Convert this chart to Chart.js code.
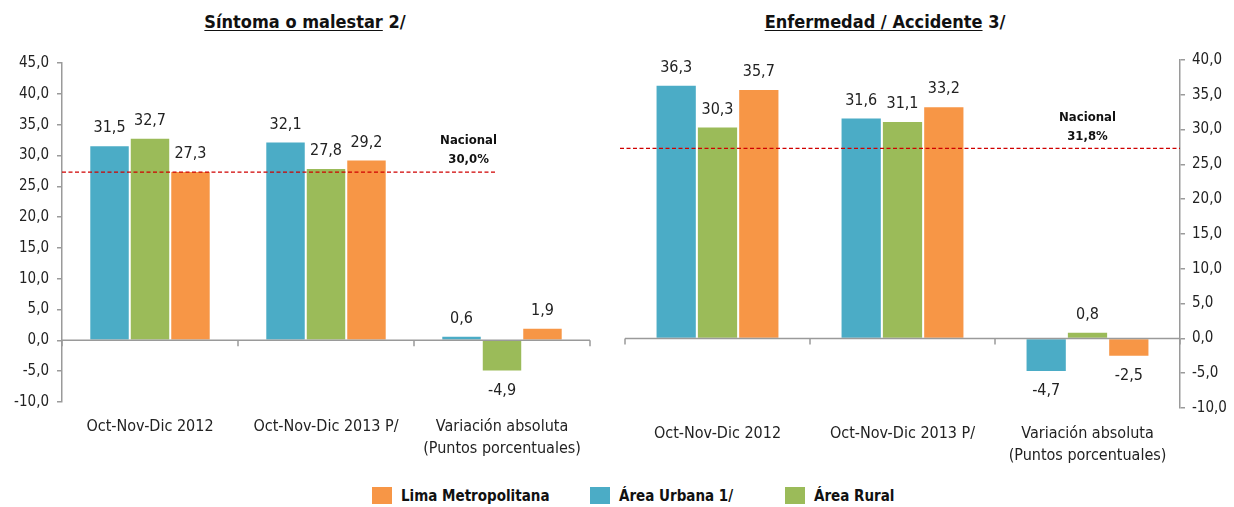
<!DOCTYPE html>
<html>
<head>
<meta charset="utf-8">
<script src="https://cdn.jsdelivr.net/npm/chart.js@4.4.1/dist/chart.umd.min.js"></script>
<style>
    body { margin: 0; background: #fff; width: 1234px; height: 507px; overflow: hidden; position: relative;
           font-family: "Liberation Sans Narrow", "DejaVu Sans Condensed", "Arial Narrow", sans-serif; color: #111; }
    .titulo { position: absolute; top: 11px; font-weight: bold; font-size: 18px; white-space: nowrap; transform: translateX(-50%); }
    .titulo u { text-underline-offset: 2px; }
    #izq { position: absolute; left: 0; top: 0; }
    #der { position: absolute; left: 615px; top: 0; }
    .leyenda { position: absolute; top: 487px; font-weight: bold; font-size: 15px; white-space: nowrap; }
    .leyenda span { display: inline-block; width: 20px; height: 17px; vertical-align: -3px; margin-right: 9px; }
</style>
</head>
<body>

<div class="titulo" style="left:305px"><u>Síntoma o malestar</u> 2/</div>
<div class="titulo" style="left:885px"><u>Enfermedad / Accidente</u> 3/</div>

<canvas id="izq" width="615" height="470"></canvas>
<canvas id="der" width="619" height="470"></canvas>

<div class="leyenda" style="left:372px"><span style="background:#F79646"></span>Lima Metropolitana</div>
<div class="leyenda" style="left:590px"><span style="background:#4BACC6"></span>Área Urbana 1/</div>
<div class="leyenda" style="left:785px"><span style="background:#9BBB59"></span>Área Rural</div>

<script>
// =====================
// DATOS
// =====================
const categorias = ["Oct-Nov-Dic 2012", "Oct-Nov-Dic 2013 P/", ["Variación absoluta", "(Puntos porcentuales)"]];

// Síntoma o malestar
const sintomaUrbana = [31.5, 32.1, 0.6];
const sintomaRural  = [32.7, 27.8, -4.9];
const sintomaLima   = [27.3, 29.2, 1.9];

// Enfermedad / Accidente
const enfermedadUrbana = [36.3, 31.6, -4.7];
const enfermedadRural  = [30.3, 31.1, 0.8];
const enfermedadLima   = [35.7, 33.2, -2.5];

// linea nacional (como aparece dibujada) y su texto
const nacionalSintoma = 27.3;
const nacionalSintomaTexto = "30,0%";
const nacionalEnfermedad = 27.3;
const nacionalEnfermedadTexto = "31,8%";

const COLOR_URBANA = "#4BACC6";
const COLOR_RURAL = "#9BBB59";
const COLOR_LIMA = "#F79646";
const FUENTE = "'Liberation Sans Narrow', 'DejaVu Sans Condensed', 'Arial Narrow', sans-serif";

const coma = v => v.toFixed(1).replace(".", ",");

// =====================
// PLUGIN: etiquetas, eje cero, linea nacional
// =====================
const extras = {
    id: "extras",
    afterDatasetsDraw(chart, args, opts) {
        const ctx = chart.ctx;
        const x = chart.scales.x;
        const y = chart.scales.y;
        const area = chart.chartArea;

        // eje en cero con marcas entre categorias
        const y0 = y.getPixelForValue(0);
        const mitad = (x.getPixelForValue(1) - x.getPixelForValue(0)) / 2;
        ctx.save();
        ctx.strokeStyle = "#9a9a9a";
        ctx.lineWidth = 1.5;
        ctx.beginPath();
        ctx.moveTo(area.left, y0);
        ctx.lineTo(area.right, y0);
        for (let i = 0; i <= categorias.length; i++) {
            const px = x.getPixelForValue(i) - mitad;
            ctx.moveTo(px, y0);
            ctx.lineTo(px, y0 + 6);
        }
        ctx.stroke();

        // valores
        ctx.fillStyle = "#222";
        ctx.font = "16px " + FUENTE;
        ctx.textAlign = "center";
        ctx.textBaseline = "middle";
        chart.data.datasets.forEach((ds, i) => {
            chart.getDatasetMeta(i).data.forEach((bar, j) => {
                const v = ds.data[j];
                ctx.fillText(coma(v), bar.x, v >= 0 ? bar.y - 18 : bar.y + 20);
            });
        });

        // linea nacional
        const yl = y.getPixelForValue(opts.nacional);
        ctx.strokeStyle = "#D00000";
        ctx.lineWidth = 1.3;
        ctx.setLineDash([4, 2.5]);
        ctx.beginPath();
        ctx.moveTo(area.left + opts.desde, yl);
        ctx.lineTo(opts.hasta === null ? area.right : x.getPixelForValue(opts.hasta), yl);
        ctx.stroke();
        ctx.setLineDash([]);

        const xt = x.getPixelForValue(opts.textoX);
        ctx.fillStyle = "#111";
        ctx.font = "bold 13px " + FUENTE;
        ctx.fillText("Nacional", xt, yl - 31);
        ctx.fillText(opts.texto, xt, yl - 12);
        ctx.restore();
    }
};

function crearGrafico(id, urbana, rural, lima, cfg) {
    return new Chart(document.getElementById(id), {
        type: "bar",
        data: {
            labels: categorias,
            datasets: [
                { label: "Área Urbana 1/", data: urbana, backgroundColor: COLOR_URBANA },
                { label: "Área Rural", data: rural, backgroundColor: COLOR_RURAL },
                { label: "Lima Metropolitana", data: lima, backgroundColor: COLOR_LIMA }
            ]
        },
        options: {
            responsive: false,
            animation: false,
            categoryPercentage: cfg.catPct,
            barPercentage: 0.95,
            layout: { padding: cfg.padding },
            plugins: {
                legend: { display: false },
                tooltip: { enabled: false },
                extras: cfg.extras
            },
            scales: {
                x: {
                    grid: { display: false },
                    border: { display: false },
                    ticks: {
                        color: "#222",
                        padding: cfg.xPadding,
                        maxRotation: 0,
                        font: { family: FUENTE, size: 16, lineHeight: 1.35 }
                    },
                    afterFit: s => { s.height = cfg.xAlto; }
                },
                y: {
                    position: cfg.yPos,
                    min: cfg.min,
                    max: cfg.max,
                    grid: { drawOnChartArea: false, color: "#9a9a9a", tickLength: 5, lineWidth: 1.5 },
                    border: { color: "#9a9a9a", width: 1.5 },
                    ticks: {
                        stepSize: 5,
                        color: "#222",
                        padding: cfg.yPadding,
                        font: { family: FUENTE, size: 15 },
                        callback: v => coma(v)
                    },
                    afterFit: s => { s.width = cfg.yAncho; }
                }
            }
        },
        plugins: [extras]
    });
}

// =====================
// SINTOMA O MALESTAR
// =====================
crearGrafico("izq", sintomaUrbana, sintomaRural, sintomaLima, {
    catPct: 0.69,
    padding: { top: 63, right: 25, left: 0, bottom: 0 },
    xPadding: 6, xAlto: 68,
    yPos: "left", yPadding: 8, yAncho: 62,
    min: -10, max: 45,
    extras: { nacional: nacionalSintoma, texto: nacionalSintomaTexto, desde: 0, hasta: 1.97, textoX: 1.81 }
});

// =====================
// ENFERMEDAD / ACCIDENTE
// =====================
crearGrafico("der", enfermedadUrbana, enfermedadRural, enfermedadLima, {
    catPct: 0.67,
    padding: { top: 60, right: 0, left: 10, bottom: 0 },
    xPadding: 7, xAlto: 62,
    yPos: "right", yPadding: 7, yAncho: 54,
    min: -10, max: 40,
    extras: { nacional: nacionalEnfermedad, texto: nacionalEnfermedadTexto, desde: -5, hasta: null, textoX: 2.0 }
});
</script>
</body>
</html>
